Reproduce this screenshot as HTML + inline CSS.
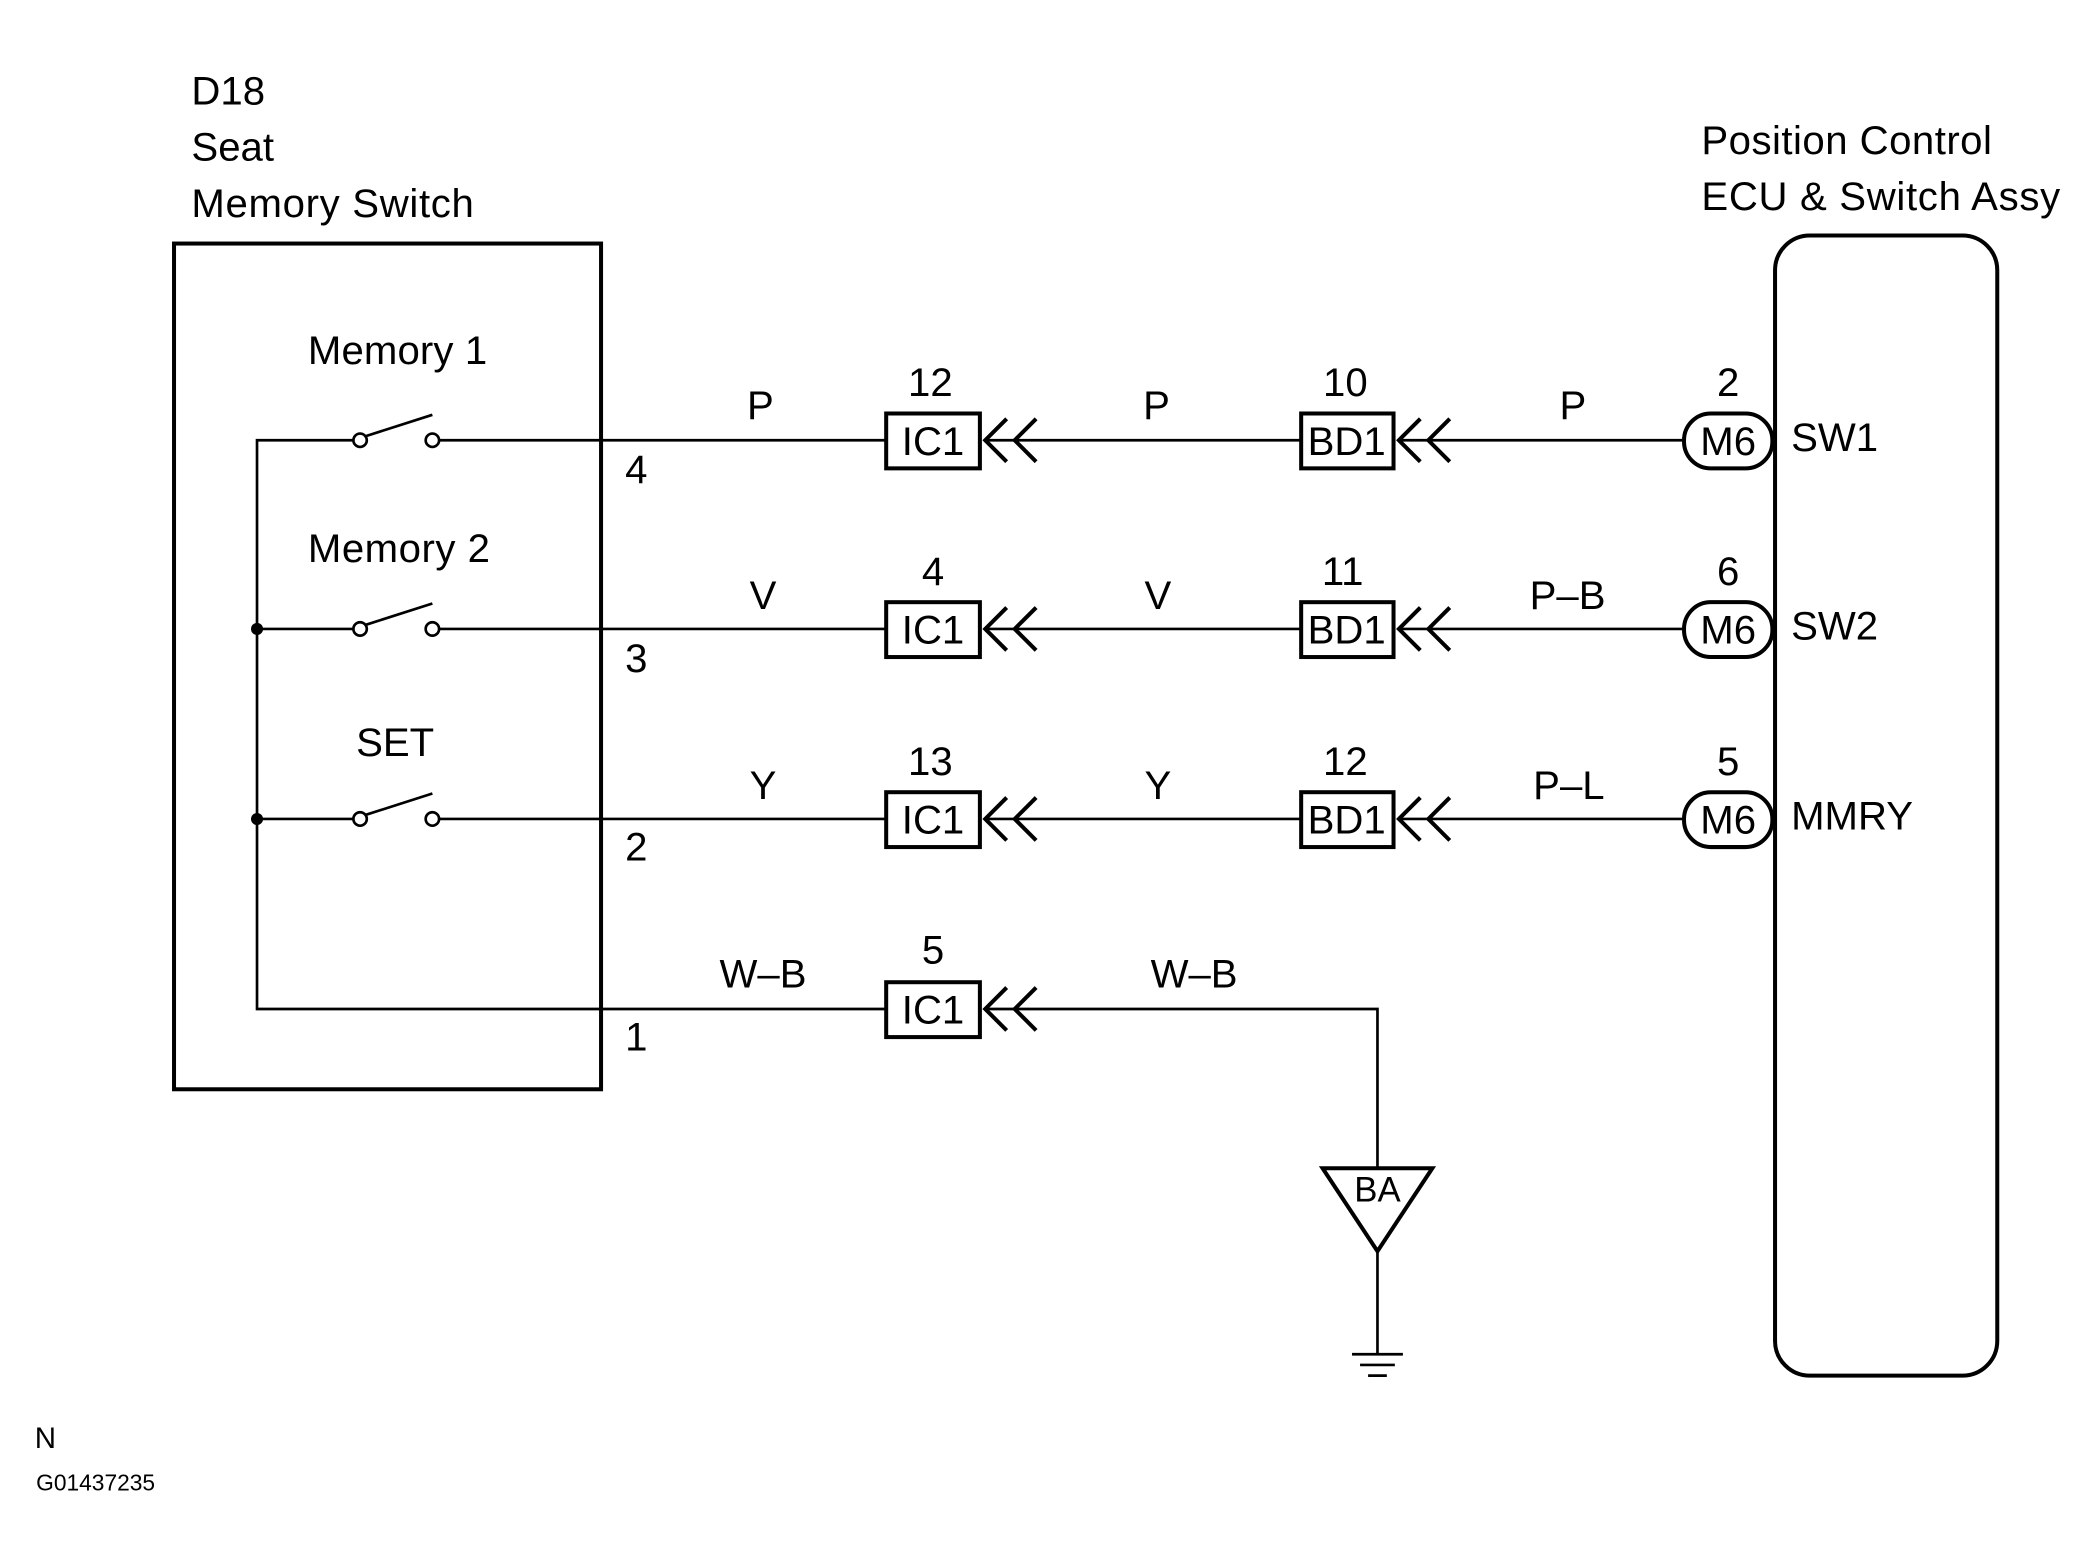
<!DOCTYPE html>
<html><head><meta charset="utf-8"><style>
html,body{margin:0;padding:0;background:#fff;}
svg{display:block;}
text{font-family:"Liberation Sans Narrow","Liberation Sans",sans-serif;font-size:30px;fill:#000;}
</style></head><body>
<svg width="2099" height="1567" viewBox="0 0 1568 1171" preserveAspectRatio="none" xmlns="http://www.w3.org/2000/svg">
<g fill="none" stroke="#000">
<rect x="130" y="182" width="319" height="632" stroke-width="3"/>
<rect x="1326" y="176" width="166" height="852" rx="26" stroke-width="3"/>
<polyline points="264,329 192,329 192,754 662,754" stroke-width="2"/>
<line x1="192" y1="470" x2="264" y2="470" stroke-width="2"/>
<line x1="192" y1="612" x2="264" y2="612" stroke-width="2"/>
<g stroke-width="2">
<circle cx="269" cy="329" r="5"/><circle cx="323" cy="329" r="5"/><line x1="273" y1="326" x2="323" y2="310"/>
<circle cx="269" cy="470" r="5"/><circle cx="323" cy="470" r="5"/><line x1="273" y1="467" x2="323" y2="451"/>
<circle cx="269" cy="612" r="5"/><circle cx="323" cy="612" r="5"/><line x1="273" y1="609" x2="323" y2="593"/>
<line x1="328" y1="329" x2="662" y2="329"/>
<line x1="328" y1="470" x2="662" y2="470"/>
<line x1="328" y1="612" x2="662" y2="612"/>
<line x1="736" y1="329" x2="972" y2="329"/>
<line x1="736" y1="470" x2="972" y2="470"/>
<line x1="736" y1="612" x2="972" y2="612"/>
<line x1="1045" y1="329" x2="1258" y2="329"/>
<line x1="1045" y1="470" x2="1258" y2="470"/>
<line x1="1045" y1="612" x2="1258" y2="612"/>
<polyline points="736,754 1029,754 1029,873"/>
<line x1="1029" y1="935" x2="1029" y2="1012"/>
<line x1="1010" y1="1012" x2="1048" y2="1012"/>
<line x1="1016" y1="1020" x2="1042" y2="1020"/>
<line x1="1022" y1="1028" x2="1036" y2="1028"/>
</g>
<polygon points="988,873 1070,873 1029,935" stroke-width="3"/>
<g stroke-width="3">
<rect x="662" y="309" width="70" height="41"/>
<rect x="662" y="450" width="70" height="41"/>
<rect x="662" y="592" width="70" height="41"/>
<rect x="662" y="734" width="70" height="41"/>
<rect x="972" y="309" width="69" height="41"/>
<rect x="972" y="450" width="69" height="41"/>
<rect x="972" y="592" width="69" height="41"/>
<rect x="1258" y="309" width="66" height="41" rx="20"/>
<rect x="1258" y="450" width="66" height="41" rx="20"/>
<rect x="1258" y="592" width="66" height="41" rx="20"/>
</g>
<g stroke-width="3">
<polyline points="752,313 736,329 752,345"/><polyline points="774,313 758,329 774,345"/>
<polyline points="752,454 736,470 752,486"/><polyline points="774,454 758,470 774,486"/>
<polyline points="752,596 736,612 752,628"/><polyline points="774,596 758,612 774,628"/>
<polyline points="752,738 736,754 752,770"/><polyline points="774,738 758,754 774,770"/>
<polyline points="1061,313 1045,329 1061,345"/><polyline points="1083,313 1067,329 1083,345"/>
<polyline points="1061,454 1045,470 1061,486"/><polyline points="1083,454 1067,470 1083,486"/>
<polyline points="1061,596 1045,612 1061,628"/><polyline points="1083,596 1067,612 1083,628"/>
</g>
</g>
<g fill="#000"><circle cx="192" cy="470" r="4.5"/><circle cx="192" cy="612" r="4.5"/></g>
<text x="143" y="78">D18</text>
<text x="143" y="120">Seat</text>
<text x="143" y="162" textLength="211">Memory Switch</text>
<text x="1271" y="115" textLength="217">Position Control</text>
<text x="1271" y="157" textLength="268">ECU &amp; Switch Assy</text>
<text x="230" y="272" textLength="134">Memory 1</text>
<text x="230" y="420" textLength="136">Memory 2</text>
<text x="266" y="565">SET</text>
<text x="467" y="361">4</text><text x="467" y="502">3</text><text x="467" y="643">2</text><text x="467" y="785">1</text>
<g text-anchor="middle">
<text x="568" y="313">P</text><text x="570" y="455">V</text><text x="570" y="597">Y</text><text x="570" y="738">W–B</text>
<text x="864" y="313">P</text><text x="865" y="455">V</text><text x="865" y="597">Y</text><text x="892" y="738">W–B</text>
<text x="1175" y="313">P</text><text x="1171" y="455">P–B</text><text x="1172" y="597">P–L</text>
<text x="695" y="296">12</text><text x="697" y="437">4</text><text x="695" y="579">13</text><text x="697" y="720">5</text>
<text x="1005" y="296">10</text><text x="1003" y="437">11</text><text x="1005" y="579">12</text>
<text x="1291" y="296">2</text><text x="1291" y="437">6</text><text x="1291" y="579">5</text>
<text x="697" y="340">IC1</text><text x="697" y="481">IC1</text><text x="697" y="623">IC1</text><text x="697" y="765">IC1</text>
<text x="1006" y="340">BD1</text><text x="1006" y="481">BD1</text><text x="1006" y="623">BD1</text>
<text x="1291" y="340">M6</text><text x="1291" y="481">M6</text><text x="1291" y="623">M6</text>
<text x="1029" y="898" style="font-size:26px">BA</text>
</g>
<text x="1338" y="337">SW1</text><text x="1338" y="478">SW2</text><text x="1338" y="620">MMRY</text>
<text x="26" y="1082" style="font-size:22px">N</text>
<text x="27" y="1114" style="font-size:17px">G01437235</text>
</svg>
</body></html>
